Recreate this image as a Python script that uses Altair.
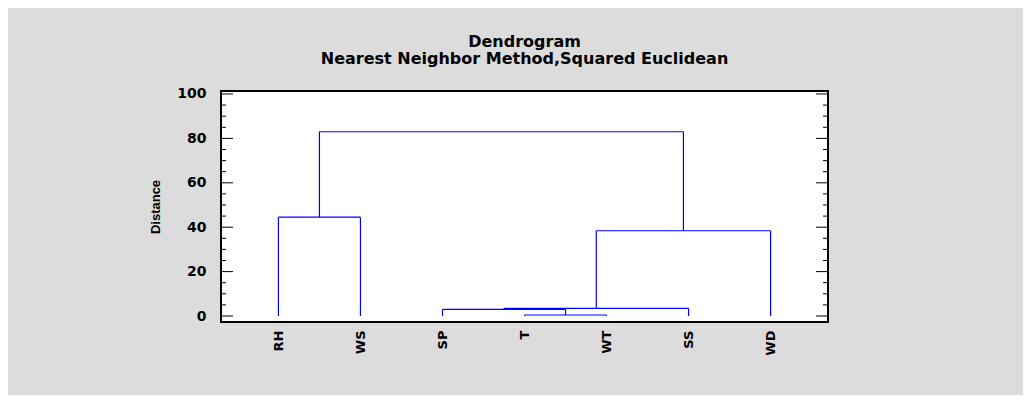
import json
import altair as alt
import pandas as pd

# ---- data ----
leaf_labels = ["RH", "WS", "SP", "T", "WT", "SS", "WD"]
merge_a = ["T", "SP", "C2", "C3", "RH", "C5"]
merge_b = ["WT", "C1", "SS", "WD", "WS", "C4"]
merge_height = [0.45, 3.0, 3.45, 38.4, 44.5, 83.0]
y_major_ticks = [0, 20, 40, 60, 80, 100]
y_minor_ticks = [5, 10, 15, 25, 30, 35, 45, 50, 55, 65, 70, 75, 85, 90, 95]
title_text = "Dendrogram"
subtitle_text = "Nearest Neighbor Method,Squared Euclidean"
y_title = "Distance"

# ---- build dendrogram segments from the linkage ----
pos = {name: (i + 1, 0.0) for i, name in enumerate(leaf_labels)}
rows = []
for k, (a, b, h) in enumerate(zip(merge_a, merge_b, merge_height)):
    xa, ha = pos[a]
    xb, hb = pos[b]
    rows.append({"x": xa, "x2": xa, "y": ha, "y2": h})
    rows.append({"x": xb, "x2": xb, "y": hb, "y2": h})
    rows.append({"x": xa, "x2": xb, "y": h, "y2": h})
    pos[f"C{k + 1}"] = ((xa + xb) / 2, h)
seg_df = pd.DataFrame(rows)

W, H = 607, 231
xscale = alt.Scale(domain=[0.3, len(leaf_labels) + 0.7], nice=False, zero=False)
yscale = alt.Scale(domain=[-2.7, 101.35], nice=False, zero=False)

label_expr = json.dumps(leaf_labels) + "[datum.value - 1]"

y_axis = alt.Axis(
    values=y_major_ticks, ticks=False, domain=False, grid=False,
    labelFont="DejaVu Sans", labelFontSize=14, labelFontWeight="bold",
    labelColor="black", labelPadding=15,
    titleFont="Liberation Sans", titleFontSize=13, titleFontWeight="bold",
    titleColor="black", titlePadding=14)

seg = alt.Chart(seg_df).mark_rule(color="#0000FF", strokeWidth=1.2).encode(
    x=alt.X("x:Q", scale=xscale, axis=alt.Axis(
        values=list(range(1, len(leaf_labels) + 1)), labelExpr=label_expr,
        labelAngle=270, labelAlign="right", labelBaseline="middle",
        ticks=False, domain=False, grid=False, labelPadding=8,
        labelFont="DejaVu Sans", labelFontSize=13, labelFontWeight="bold",
        labelColor="black", title=None)),
    x2="x2:Q",
    y=alt.Y("y:Q", scale=yscale, title=y_title, axis=y_axis),
    y2="y2:Q",
)

def tick_layer(values, length, side):
    df = pd.DataFrame({"v": values})
    if side == "left":
        xs = dict(x=alt.value(0), x2=alt.value(length))
    else:
        xs = dict(x=alt.value(W - length), x2=alt.value(W))
    return alt.Chart(df).mark_rule(color="black", strokeWidth=1).encode(
        y=alt.Y("v:Q", scale=yscale, title=y_title, axis=y_axis), **xs)

layers = [seg,
          tick_layer(y_major_ticks, 12, "left"), tick_layer(y_minor_ticks, 5, "left"),
          tick_layer(y_major_ticks, 12, "right"), tick_layer(y_minor_ticks, 5, "right")]

chart = alt.layer(*layers).properties(
    width=W, height=H,
    title=alt.TitleParams(
        text=title_text, subtitle=subtitle_text, anchor="middle", frame="group",
        font="DejaVu Sans", fontSize=16, fontWeight="bold", color="black",
        subtitleFont="DejaVu Sans", subtitleFontSize=16, subtitleFontWeight="bold",
        subtitleColor="black", subtitlePadding=1, offset=20),
    autosize=alt.AutoSizeParams(type="none"),
    padding={"left": 213, "top": 83, "right": 195, "bottom": 73},
    background="#DCDCDC",
).configure_view(stroke="black", strokeWidth=2, fill="white")

chart.save("out.html", embed_options={"renderer": "svg", "actions": False})
